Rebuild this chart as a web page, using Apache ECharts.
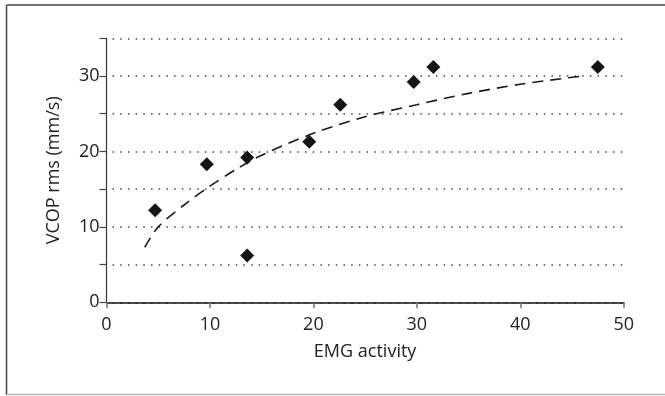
<!DOCTYPE html>
<html>
<head>
<meta charset="utf-8">
<script src="https://cdn.jsdelivr.net/npm/echarts@6/dist/echarts.min.js"></script>
<style>
html,body{margin:0;padding:0;background:#fff;}
#chart{width:665px;height:396px;}
</style>
</head>
<body>
<div id="chart"></div>
<script>
// Data
var emgActivity = [4.7, 9.7, 13.6, 13.6, 19.6, 22.6, 29.7, 31.6, 47.5];
var vcopRms     = [12.2, 18.3, 19.2, 6.2, 21.3, 26.2, 29.2, 31.2, 31.2];
// Dashed trend curve
var trendX = [3.7, 5, 7.5, 10, 12.5, 15, 20, 25, 30, 35, 40, 46];
var trendY = [7.3, 10.0, 12.9, 15.4, 17.6, 19.5, 22.4, 24.6, 26.2, 27.7, 28.9, 30.0];
var xTicks = [0, 10, 20, 30, 40, 50];
var yTickLabels = [0, 10, 20, 30];

var points = emgActivity.map(function (x, i) { return [x, vcopRms[i]]; });
var trend = trendX.map(function (x, i) { return [x, trendY[i]]; });

var chart = echarts.init(document.getElementById('chart'), null, {renderer: 'canvas'});
var font = '"Open Sans", "Noto Sans", sans-serif';
chart.setOption({
  animation: false,
  backgroundColor: '#fff',
  grid: {left: 106.5, right: 41.3, top: 38.3, bottom: 93.7, containLabel: false},
  xAxis: {
    type: 'value', min: 0, max: 50, interval: 10,
    name: 'EMG activity', nameLocation: 'middle', nameGap: 41,
    nameTextStyle: {fontFamily: font, fontSize: 18, color: '#222'},
    axisLine: {show: true, onZero: false, lineStyle: {color: '#111', width: 1.5}},
    axisTick: {show: true, inside: false, length: 6, lineStyle: {color: '#777', width: 1.5}},
    axisLabel: {
      fontFamily: font, fontSize: 18, color: '#222', margin: 14,
      formatter: function (v) { return xTicks.indexOf(v) >= 0 ? String(v) : ''; }
    },
    splitLine: {show: false}
  },
  yAxis: {
    type: 'value', min: 0, max: 35, interval: 5,
    name: 'VCOP rms (mm/s)', nameLocation: 'middle', nameGap: 44,
    nameTextStyle: {fontFamily: font, fontSize: 18, color: '#222'},
    axisLine: {show: true, lineStyle: {color: '#333', width: 1.2}},
    axisTick: {show: true, inside: false, length: 7, lineStyle: {color: '#444', width: 1.2}},
    axisLabel: {
      fontFamily: font, fontSize: 18, color: '#222', margin: 7,
      formatter: function (v) { return yTickLabels.indexOf(v) >= 0 ? String(v) : ''; }
    },
    splitLine: {show: true, lineStyle: {color: '#444', width: 1.5, type: [1.5, 6.2], dashOffset: -6}}
  },
  series: [
    {
      type: 'line', data: trend, smooth: 0.3, symbol: 'none',
      lineStyle: {color: '#1a1a1a', width: 1.6, type: [11, 7]},
      z: 2
    },
    {
      type: 'scatter', data: points, symbol: 'diamond', symbolSize: 14,
      itemStyle: {color: '#151515', opacity: 1},
      z: 3
    }
  ],
  graphic: [
    {type: 'line', shape: {x1: 6.5, y1: 5, x2: 665, y2: 5}, style: {stroke: '#444', lineWidth: 1.5}},
    {type: 'line', shape: {x1: 6.5, y1: 5, x2: 6.5, y2: 395}, style: {stroke: '#444', lineWidth: 1.5}},
    {type: 'line', shape: {x1: 6.5, y1: 394.5, x2: 665, y2: 394.5}, style: {stroke: '#bbb', lineWidth: 1.5}}
  ]
});
</script>
</body>
</html>
